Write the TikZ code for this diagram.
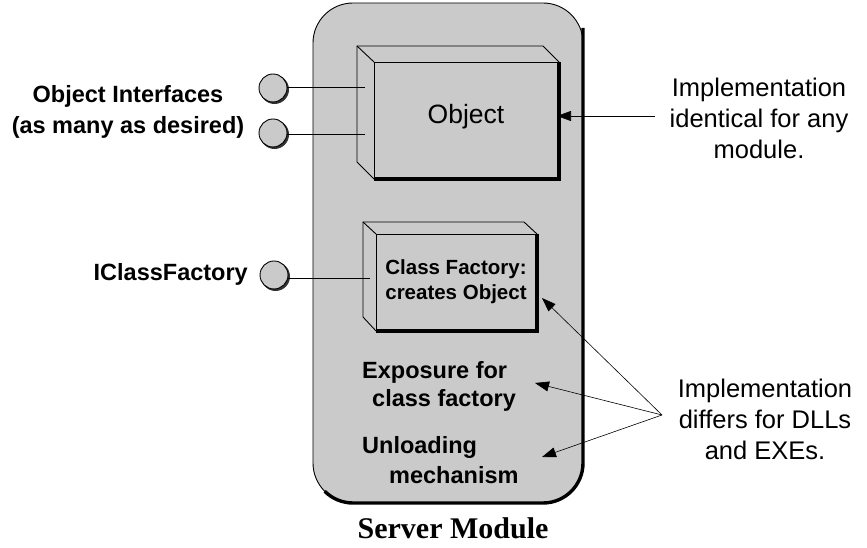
\documentclass[tikz,border=0pt]{standalone}
\usepackage{fontspec}
\setmainfont{Liberation Sans}
\newfontfamily\serifbf{Liberation Serif}
\usetikzlibrary{arrows.meta}
\definecolor{dotgray}{RGB}{202,202,202}
\begin{document}
\begin{tikzpicture}[x=1pt,y=1pt,
  thin line/.style={line width=0.9pt},
  heavy/.style={line width=3.4pt},
  iface/.style={circle,draw,line width=0.9pt,fill=dotgray,minimum size=28pt,inner sep=0pt},
  lbl/.style={font=\fontsize{23.5}{31}\selectfont\bfseries,inner sep=0pt},
  note/.style={font=\fontsize{25.5}{31}\selectfont,align=center,inner sep=0pt},
  arr/.style={line width=0.6pt,-{Triangle[length=14pt,width=10pt]}}]
\useasboundingbox (0,0) rectangle (867,548);
% server module
\draw[thin line,fill=dotgray,rounded corners=40pt] (313,45) rectangle (583,545);
\draw[heavy] (583,520) -- (583,85) arc[start angle=0,end angle=-90,radius=40] -- (353,45) arc[start angle=270,end angle=225,radius=40];
% object box
\draw[thin line,fill=dotgray] (357,502) -- (543,502) -- (559,486) -- (559,369) -- (374,369) -- (357,386) -- cycle;
\draw[thin line] (357,502) -- (374,486);
\draw[thin line] (374,369) rectangle (559,486);
\draw[heavy] (559,486) -- (559,369) -- (374,369);
\node[font=\fontsize{26.5}{31}\selectfont,inner sep=0pt] (obj) at (466,431) {Object};
% class factory box
\draw[thin line,fill=dotgray] (363,326) -- (524,326) -- (537,314) -- (537,217) -- (376,217) -- (363,231) -- cycle;
\draw[thin line] (363,326) -- (376,314);
\draw[thin line] (376,217) rectangle (537,314);
\draw[heavy] (537,314) -- (537,217) -- (376,217);
\node[font=\fontsize{20.5}{25}\selectfont\bfseries,align=center,inner sep=0pt] (cf) at (456,266) {Class Factory:\\creates Object};
% interfaces
\foreach \n/\x/\y in {i1/273/460,i2/273/415,i3/274/273}{
  \fill[black!80] (\x+1.5,\y-1.5) circle (14.5pt);
  \node[iface] (\n) at (\x,\y) {};
}
\coordinate (e1) at (365,461);
\coordinate (e2) at (365,414);
\coordinate (e3) at (370,270);
\draw[thin line] (i1.east|-e1) -- (e1);
\draw[thin line] (i2.east|-e2) -- (e2);
\draw[thin line] (i3.east|-e3) -- (e3);
% left labels
\node[lbl,align=center] (oi) at (128,436) {Object Interfaces\\(as many as desired)};
\node[lbl,anchor=east] (icf) at (248,274) {IClassFactory};
% inner labels
\node[lbl,anchor=west] (exp1) at (362,176) {Exposure for};
\node[lbl,anchor=west] (exp2) at (372,148) {class factory};
\node[lbl,anchor=west] (unl1) at (362,101) {Unloading};
\node[lbl,anchor=west] (unl2) at (389,73) {mechanism};
% notes
\node[note] (n1) at (759,430) {Implementation\\identical for any\\module.};
\node[note] (n2) at (765,129) {Implementation\\differs for DLLs\\and EXEs.};
\coordinate (s1) at (655,432);
\coordinate (t1) at (557,432);
\draw[arr] (s1) -- (t1);
\coordinate (d) at (662,133);
\coordinate (t2) at (542,250);
\coordinate (t3) at (535,165);
\coordinate (t4) at (542,91);
\draw[arr] (d) -- (t2);
\draw[arr] (d) -- (t3);
\draw[arr] (d) -- (t4);
% title
\node[font=\fontsize{30}{34}\selectfont\serifbf\bfseries,inner sep=0pt] (title) at (453,20) {Server Module};
\end{tikzpicture}
\end{document}
